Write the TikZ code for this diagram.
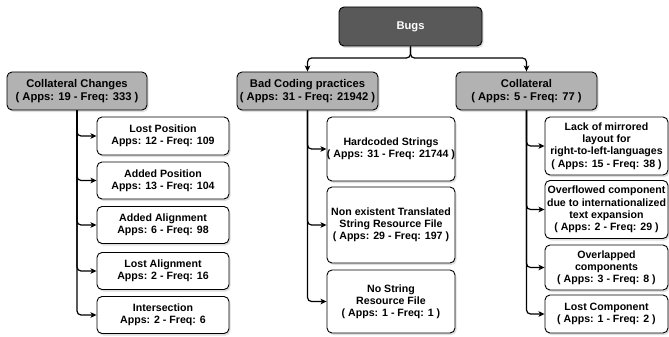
\documentclass[tikz,border=0pt]{standalone}
\usepackage{fontspec}
\setmainfont{Liberation Sans}
\usetikzlibrary{arrows.meta,shadows}
\begin{document}
\begin{tikzpicture}[x=1pt,y=-1pt,
  box/.style={draw=black, line width=0.9pt, rounded corners=5pt, fill=white, align=center,
    font=\fontsize{10.6}{12.2}\selectfont\bfseries, inner sep=0pt,
    drop shadow={shadow xshift=1.5pt, shadow yshift=-2pt, opacity=0.25}},
  topbox/.style={box, fill=black!65, text=white, font=\fontsize{11.2}{13}\selectfont\bfseries},
  midbox/.style={box, fill=black!30, font=\fontsize{11.2}{13}\selectfont\bfseries},
  edge/.style={draw=black, line width=1.2pt, rounded corners=4pt, -{Stealth[length=6pt,width=5.5pt,inset=1.5pt]}}
]
\useasboundingbox (0,0) rectangle (669,337);

\node[topbox, minimum width=143pt, minimum height=39pt] (bugs) at (410.5,26.5) {Bugs};

\node[midbox, minimum width=140pt, minimum height=38pt] (cc) at (77,91) {Collateral Changes\\( Apps: 19 - Freq: 333 )};
\node[midbox, minimum width=141pt, minimum height=38pt] (bc) at (307.5,91) {Bad Coding practices\\( Apps: 31 - Freq: 21942 )};
\node[midbox, minimum width=141pt, minimum height=38pt] (co) at (526.5,91) {Collateral\\( Apps: 5 - Freq: 77 )};

% Collateral Changes children
\node[box, minimum width=132pt, minimum height=38pt] (lp) at (163,136) {Lost Position\\Apps: 12 - Freq: 109};
\node[box, minimum width=132pt, minimum height=37pt] (ap) at (163,180.5) {Added Position\\Apps: 13 - Freq: 104};
\node[box, minimum width=132pt, minimum height=37pt] (aa) at (163,225) {Added Alignment\\Apps: 6 - Freq: 98};
\node[box, minimum width=132pt, minimum height=37pt] (la) at (163,271) {Lost Alignment\\Apps: 2 - Freq: 16};
\node[box, minimum width=132pt, minimum height=37pt] (is) at (163,315) {Intersection\\Apps: 2 - Freq: 6};

% Bad Coding children
\node[box, minimum width=128pt, minimum height=64pt] (hs) at (391,149) {Hardcoded Strings\\( Apps: 31 - Freq: 21744 )};
\node[box, minimum width=128pt, minimum height=76pt] (ne) at (391,225) {Non existent Translated\\String Resource File\\( Apps: 29 - Freq: 197 )};
\node[box, minimum width=128pt, minimum height=63pt] (ns) at (391,301.5) {No String\\Resource File\\( Apps: 1 - Freq: 1 )};

% Collateral children
\node[box, minimum width=123pt, minimum height=58pt] (lm) at (606.5,146) {Lack of mirrored\\layout for\\right-to-left-languages\\( Apps: 15 - Freq: 38 )};
\node[box, minimum width=123pt, minimum height=58pt] (oc) at (606.5,209.5) {Overflowed component\\due to internationalized\\text expansion\\( Apps: 2 - Freq: 29 )};
\node[box, minimum width=123pt, minimum height=45pt] (ol) at (606.5,267.5) {Overlapped\\components\\( Apps: 3 - Freq: 8 )};
\node[box, minimum width=123pt, minimum height=38pt] (lc) at (606.5,314) {Lost Component\\( Apps: 1 - Freq: 2 )};

\coordinate (j) at (410.5,58);
\draw[edge] (bugs.south) -- (j) -| (bc.north);
\draw[edge] (bugs.south) -- (j) -| (co.north);

\foreach \c in {lp,ap,aa,la,is} \draw[edge] (cc.south) |- (\c.west);
\foreach \c in {hs,ne,ns} \draw[edge] (bc.south) |- (\c.west);
\foreach \c in {lm,oc,ol,lc} \draw[edge] (co.south) |- (\c.west);
\end{tikzpicture}
\end{document}
